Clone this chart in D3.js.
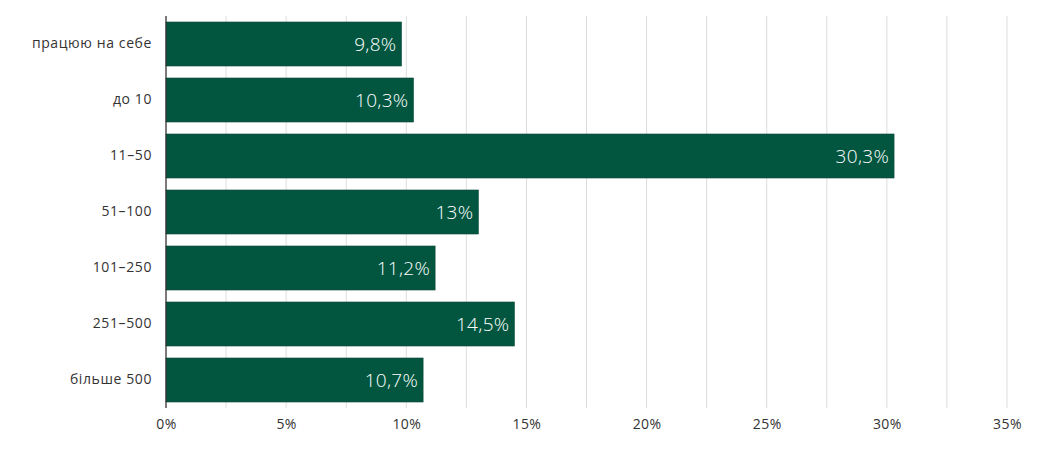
<!DOCTYPE html>
<html>
<head>
<meta charset="utf-8">
<script src="https://cdn.jsdelivr.net/npm/d3@7"></script>
<style>
  body { margin: 0; background: #fff; }
  svg { display: block; }
</style>
</head>
<body>
<svg id="chart" width="1050" height="449"></svg>
<script>
const categories = ["працюю на себе", "до 10", "11–50", "51–100", "101–250", "251–500", "більше 500"];
const values = [9.8, 10.3, 30.3, 13, 11.2, 14.5, 10.7];
const valueLabels = ["9,8%", "10,3%", "30,3%", "13%", "11,2%", "14,5%", "10,7%"];
const ticks = [0, 5, 10, 15, 20, 25, 30, 35];
const gridTicks = d3.range(0, 35.01, 2.5);

const margin = {top: 16, right: 43, bottom: 41, left: 166};
const width = 1050, height = 449;
const labelFont = "'Open Sans', 'DejaVu Sans', sans-serif";

const svg = d3.select("#chart");

const x = d3.scaleLinear()
    .domain([0, 35])
    .range([margin.left, width - margin.right]);

const y = d3.scaleBand()
    .domain(categories)
    .range([margin.top, height - margin.bottom])
    .paddingInner(0.214)
    .paddingOuter(0.107);

// grid
svg.append("g")
    .selectAll("line")
    .data(gridTicks.filter(d => d > 0))
    .join("line")
    .attr("x1", d => x(d))
    .attr("x2", d => x(d))
    .attr("y1", margin.top)
    .attr("y2", height - margin.bottom)
    .attr("stroke", "#dcdcdc")
    .attr("stroke-width", 1);

// bars
svg.append("g")
    .selectAll("rect")
    .data(values)
    .join("rect")
    .attr("x", x(0))
    .attr("y", (d, i) => y(categories[i]))
    .attr("width", d => x(d) - x(0))
    .attr("height", y.bandwidth())
    .attr("fill", "#02563f")
    .attr("stroke", "#0b4a37")
    .attr("stroke-width", 0.6);

// value labels
svg.append("g")
    .selectAll("text")
    .data(values)
    .join("text")
    .attr("x", d => x(d) - 5)
    .attr("y", (d, i) => y(categories[i]) + y.bandwidth() / 2)
    .attr("dy", "0.36em")
    .attr("text-anchor", "end")
    .attr("font-family", labelFont)
    .attr("font-weight", 300)
    .attr("font-size", "19px")
    .attr("letter-spacing", "0.3px")
    .attr("fill", "#ffffff")
    .text((d, i) => valueLabels[i]);

// y axis
const yAxis = svg.append("g")
    .attr("transform", `translate(${margin.left},0)`)
    .call(d3.axisLeft(y).tickSize(0).tickPadding(14));
yAxis.select(".domain")
    .attr("stroke", "#333")
    .attr("stroke-width", 1.3)
    .attr("d", `M0,${margin.top}V${height - margin.bottom}`);
yAxis.selectAll("text")
    .attr("font-family", labelFont)
    .attr("font-size", "14px")
    .attr("letter-spacing", "0.6px")
    .attr("fill", "#333");

// x axis
const xAxis = svg.append("g")
    .attr("transform", `translate(0,${height - margin.bottom})`)
    .call(d3.axisBottom(x).tickValues(ticks).tickSize(0).tickPadding(11).tickFormat(d => d + "%"));
xAxis.select(".domain").remove();
xAxis.selectAll("text")
    .attr("font-family", labelFont)
    .attr("font-size", "14px")
    .attr("letter-spacing", "0.4px")
    .attr("fill", "#333");
</script>
</body>
</html>
